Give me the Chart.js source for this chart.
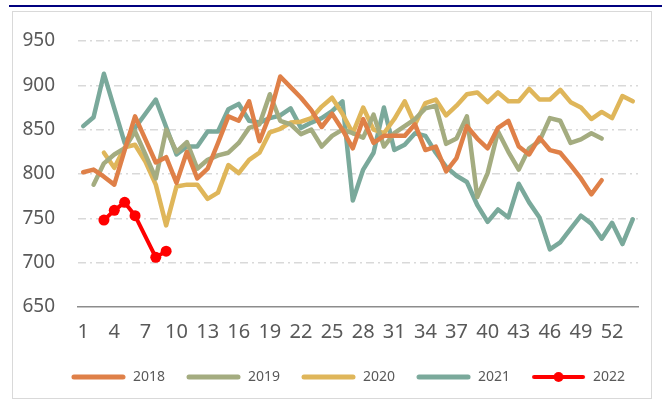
<!DOCTYPE html>
<html>
<head>
<meta charset="utf-8">
<script src="https://cdn.jsdelivr.net/npm/chart.js@4"></script>
<style>
  body{margin:0;background:#fff;}
  #wrap{position:relative;width:662px;height:402px;overflow:hidden;}
  #topline{position:absolute;left:9px;right:0;top:5px;height:2px;background:#00007f;}
  #frame{position:absolute;left:12px;top:11px;width:638px;height:386px;border:1.5px solid #d9d9d9;}
  #graf{position:absolute;left:0;top:0;}
</style>
</head>
<body>
<div id="wrap">
  <div id="topline"></div>
  <div id="frame"></div>
  <canvas id="graf" width="662" height="402"></canvas>
</div>
<script>
// settimane 1..54
var settimane=[];
for(var i=1;i<=54;i++) settimane.push(String(i));

var anni=["2018","2019","2020","2021","2022"];
var colori=["#df8048","#a4ac80","#dfb65a","#7aa99b","#ff0000"];

var v2018=[802,805,797,788,827,865,839,813,819,790,
           825,795,806,835,865,860,882,837,867,910,
           898,886,872,853,868,850,829,862,835,843,
           843,843,856,827,831,803,818,854,840,829,
           852,860,831,822,841,827,824,810,795,777,
           793,null,null,null];
var v2019=[null,788,812,822,829,848,822,795,850,825,
           836,806,816,821,824,835,852,856,890,860,
           856,845,850,831,843,850,846,841,867,831,
           846,854,862,874,877,834,840,865,774,801,
           848,825,805,829,837,863,860,835,839,846,
           840,null,null,null];
var v2020=[null,null,824,807,830,833,814,788,742,786,
           788,788,772,779,810,801,816,824,847,851,
           858,859,863,876,886,868,846,875,850,846,
           862,882,856,880,884,866,877,890,892,881,
           892,882,882,896,884,884,895,881,875,862,
           870,863,888,882];
var v2021=[854,864,913,874,835,852,868,884,853,822,
           831,831,848,848,873,879,860,858,863,866,
           874,852,858,863,871,882,770,805,824,875,
           827,833,846,843,824,808,798,791,765,746,
           760,751,789,768,751,715,723,738,753,744,
           727,745,721,749];
var v2022=[null,null,748,759,768,753,null,706,713];

// icona della legenda: linea (e pallino per il 2022)
function iconaLegenda(colore,pallino){
    var c=document.createElement("canvas");
    c.width=55; c.height=14;
    var g=c.getContext("2d");
    g.strokeStyle=colore;
    g.lineWidth=pallino?4:5;
    g.lineCap="round";
    g.beginPath(); g.moveTo(3,7); g.lineTo(52,7); g.stroke();
    if(pallino){
        g.fillStyle=colore;
        g.beginPath(); g.arc(27.5,7,5,0,Math.PI*2); g.fill();
    }
    return c;
}

var serie=[v2018,v2019,v2020,v2021,v2022];
var icone=[];
var datasets=[];
for(var k=0;k<serie.length;k++){
    var rosso=(k==4);
    icone.push(iconaLegenda(colori[k],rosso));
    datasets.push({
        label: anni[k],
        data: serie[k],
        borderColor: colori[k],
        backgroundColor: colori[k],
        borderWidth: rosso?4:4.5,
        pointRadius: rosso?5.5:0,
        pointHoverRadius: rosso?5.5:0,
        pointBackgroundColor: colori[k],
        pointBorderWidth: 0,
        pointStyle: "circle",
        spanGaps: rosso,
        tension: 0,
        borderJoinStyle: "round",
        borderCapStyle: "round"
    });
}

var testo="#595959";

// sposta la legenda verso destra come nell'originale
var spostaLegenda={
    id:"spostaLegenda",
    afterLayout:function(chart){
        if(chart.legend){
            chart.legend.left+=24;
            chart.legend.right+=24;
        }
    }
};

new Chart("graf",{
    type:"line",
    data:{labels:settimane,datasets:datasets},
    plugins:[spostaLegenda],
    options:{
        responsive:false,
        animation:false,
        layout:{padding:{left:10,right:24,top:41,bottom:8}},
        plugins:{
            tooltip:{enabled:false},
            legend:{
                position:"bottom",
                labels:{
                    usePointStyle:true,
                    pointStyleWidth:55,
                    boxHeight:14,
                    padding:21,
                    color:testo,
                    font:{family:"Noto Sans",size:14},
                    generateLabels:function(chart){
                        return chart.data.datasets.map(function(d,i){
                            return {text:d.label,pointStyle:icone[i],fillStyle:d.borderColor,
                                    strokeStyle:d.borderColor,lineWidth:0,fontColor:testo,datasetIndex:i,hidden:false};
                        });
                    }
                }
            }
        },
        scales:{
            x:{
                offset:true,
                grid:{display:false,drawTicks:false},
                border:{display:true,color:"#8c8c8c",width:1.5},
                ticks:{
                    autoSkip:false,maxRotation:0,padding:13,color:testo,
                    font:{family:"Noto Sans",size:20},
                    callback:function(v,i){return i%3==0?settimane[i]:"";}
                },
                afterFit:function(s){s.height=42;}
            },
            y:{
                min:650,max:950,
                grid:{
                    drawTicks:false,lineWidth:1.5,
                    color:function(c){return c.tick.value==650?"rgba(0,0,0,0)":"#d9d9d9";}
                },
                border:{display:false,dash:[8,4,2,4]},
                ticks:{stepSize:50,padding:23,color:testo,font:{family:"Noto Sans",size:19}},
                afterFit:function(s){s.width=68;}
            }
        }
    }
});
</script>
</body>
</html>
